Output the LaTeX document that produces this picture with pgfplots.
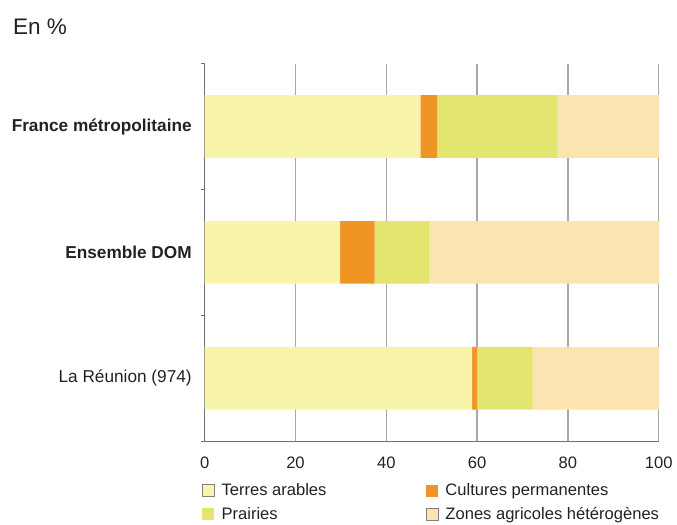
\documentclass[border=0pt]{standalone}
\usepackage{fontspec}
\setmainfont{Liberation Sans}
\usepackage{pgfplots}
\pgfplotsset{compat=1.18}
\definecolor{terres}{HTML}{F8F5AA}
\definecolor{cultures}{HTML}{F09426}
\definecolor{prairies}{HTML}{E2E56E}
\definecolor{zones}{HTML}{FCE4B0}
\definecolor{txt}{HTML}{222222}
\definecolor{axisgray}{HTML}{707070}
\definecolor{gridgray}{HTML}{A8A8A8}

\begin{document}
\begin{tikzpicture}
  % page frame: 677 x 528 px at 0.75pt per px, axis origin at px (206,444)
  \path (-154.5pt,-63pt) (353.25pt,333pt);
  \node[anchor=base west, font=\fontsize{17}{20}\selectfont, text=txt, inner sep=0pt]
    at (-144.75pt,306.75pt) {En \%};
  \begin{axis}[
    at={(0pt,0pt)}, anchor=south west,
    scale only axis,
    width=342.75pt, height=285pt,
    xbar stacked,
    bar width=47.25pt,
    xmin=0, xmax=100,
    ymin=0.5, ymax=3.5,
    xtick={0,20,40,60,80,100},
    ytick={1,2,3},
    yticklabels={La Réunion (974), \textbf{Ensemble DOM}, \textbf{France métropolitaine}},
    minor ytick={0.5,1.5,2.5,3.5},
    axis x line*=bottom, axis y line*=left,
    axis line style={-, draw=axisgray, line width=1pt},
    xmajorgrids,
    major grid style={draw=gridgray, line width=1pt},
    x tick style={draw=none},
    major y tick style={draw=none},
    minor y tick style={draw=axisgray, line width=1pt},
    minor tick length=3pt,
    tick align=outside,
    /pgf/number format/assume math mode=true,
    xticklabel style={font=\fontsize{12.5}{14}\selectfont, text=txt, yshift=-4pt},
    yticklabel style={font=\fontsize{13}{15}\selectfont, text=txt, xshift=-2pt},
    legend columns=2,
    legend cell align=left,
    legend style={at={(0,-0.105)}, anchor=north west, draw=none, fill=none,
      inner sep=0pt, xshift=-2.25pt,
      font=\fontsize{12.5}{14}\selectfont, text=txt,
      row sep=3pt,
      /tikz/every odd column/.append style={column sep=3pt},
      /tikz/every even column/.append style={column sep=73pt}},
    legend image code/.code={\path[#1] (0pt,-4.5pt) rectangle (9pt,4.5pt);},
  ]
    \addplot[fill=terres, draw=none,
      legend image code/.code={\path[fill=terres, draw=gray, line width=0.8pt] (0pt,-4.5pt) rectangle (9pt,4.5pt);}]
      coordinates {(58.9,1) (29.8,2) (47.5,3)};
    \addplot[fill=cultures, draw=none]
      coordinates {(1.1,1) (7.6,2) (3.7,3)};
    \addplot[fill=prairies, draw=none]
      coordinates {(12.2,1) (12.1,2) (26.5,3)};
    \addplot[fill=zones, draw=none,
      legend image code/.code={\path[fill=zones, draw=gray, line width=0.8pt] (0pt,-4.5pt) rectangle (9pt,4.5pt);}]
      coordinates {(27.8,1) (50.5,2) (22.3,3)};
    \legend{Terres arables, Cultures permanentes, Prairies, Zones agricoles hétérogènes}
  \end{axis}
\end{tikzpicture}
\end{document}
